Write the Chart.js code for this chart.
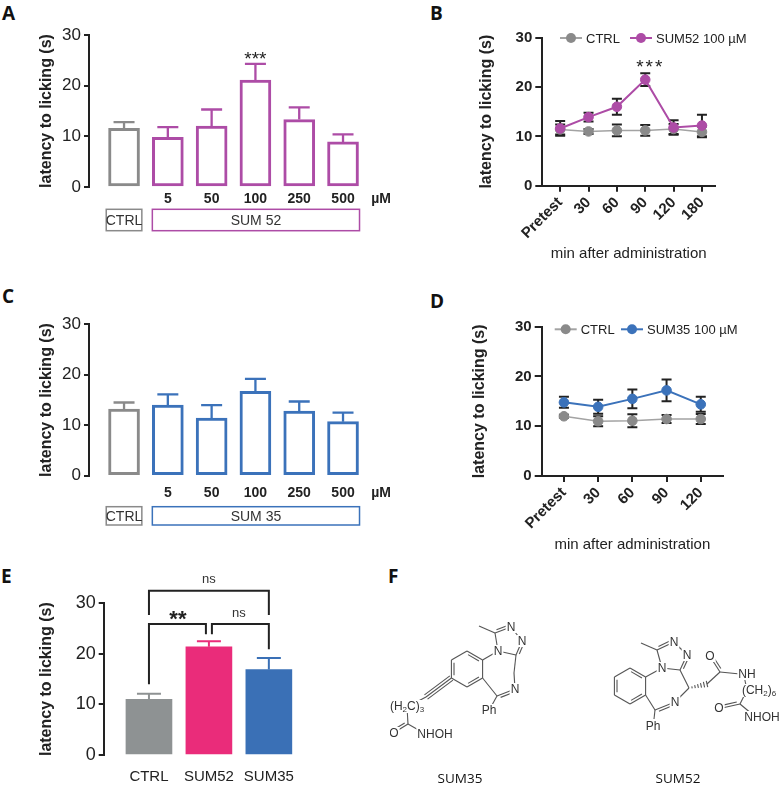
<!DOCTYPE html>
<html lang="en">
<head>
<meta charset="UTF-8">
<title>Latency to licking</title>
<script src="https://cdn.jsdelivr.net/npm/chart.js@4.4.0/dist/chart.umd.min.js"></script>
<style>
    body { margin: 0; background: #fff; }
    #fig { position: relative; width: 780px; height: 793px; overflow: hidden; background: #fff; }
    canvas { position: absolute; }
    .lbl { position: absolute; font: bold 19px 'Open Sans', sans-serif; line-height: 19px; color: #111; }
</style>
</head>
<body>
<div id="fig">
    <div class="lbl" style="left:2px;top:4px">A</div>
    <div class="lbl" style="left:430px;top:4px">B</div>
    <div class="lbl" style="left:2px;top:287px">C</div>
    <div class="lbl" style="left:430px;top:292px">D</div>
    <div class="lbl" style="left:1px;top:567px">E</div>
    <div class="lbl" style="left:388px;top:567px">F</div>
    <canvas id="cF" width="390" height="253" style="left:390px;top:540px"></canvas>
    <canvas id="cB" width="390" height="270" style="left:390px;top:0"></canvas>
    <canvas id="cD" width="390" height="285" style="left:390px;top:270px"></canvas>
    <canvas id="cA" width="400" height="265" style="left:0;top:0"></canvas>
    <canvas id="cC" width="400" height="265" style="left:0;top:270px"></canvas>
    <canvas id="cE" width="390" height="253" style="left:0;top:540px"></canvas>
</div>
<script>
// ---- data ----
const yTicks = [0, 10, 20, 30];

const doseLabels = ['', '5', '50', '100', '250', '500'];
const sum52DoseMean = [11.6, 9.8, 12.0, 21.1, 13.3, 8.9];
const sum52DoseSem = [1.2, 2.0, 3.3, 3.2, 2.4, 1.5];
const sum52DoseStars = ['', '', '', '***', '', ''];
const sum35DoseMean = [13.2, 14.0, 11.4, 16.7, 12.8, 10.7];
const sum35DoseSem = [1.3, 2.1, 2.6, 2.5, 1.9, 1.8];
const sum35DoseStars = ['', '', '', '', '', ''];

const timeLabelsB = ['Pretest', '30', '60', '90', '120', '180'];
const ctrlTimeB = [11.4, 11.0, 11.2, 11.2, 11.5, 10.9];
const ctrlTimeBSem = [1.0, 0.5, 1.2, 1.1, 1.0, 1.1];
const sum52Time = [11.6, 13.9, 16.0, 21.5, 11.8, 12.2];
const sum52TimeSem = [1.5, 0.9, 1.6, 1.3, 1.45, 2.2];
const sum52TimeStars = ['', '', '', '***', '', ''];

const timeLabelsD = ['Pretest', '30', '60', '90', '120'];
const ctrlTimeD = [12.0, 11.0, 11.1, 11.45, 11.45];
const ctrlTimeDSem = [0.3, 1.0, 1.3, 0.8, 1.0];
const sum35Time = [14.8, 13.9, 15.5, 17.2, 14.4];
const sum35TimeSem = [1.1, 1.4, 1.9, 2.2, 1.5];
const sum35TimeStars = ['', '', '', '', ''];

const groupLabelsE = ['CTRL', 'SUM52', 'SUM35'];
const groupMeanE = [11.0, 21.4, 16.9];
const groupSemE = [1.1, 1.1, 2.3];

// ---- styling ----
const FONT = "'Liberation Sans', Arial, sans-serif";
const INK = '#222';
const GRAY = '#8a8a8a';
const PURPLE = '#ad4ca6';
const BLUE = '#3b72ba';
const barColorsE = ['#8e9293', '#ea2c7a', '#3a70b6'];

Chart.defaults.font.family = FONT;
Chart.defaults.color = INK;
Chart.defaults.animation = false;
Chart.defaults.plugins.legend.display = false;
Chart.defaults.plugins.tooltip.enabled = false;

// error bars from dataset.sem, drawn under the marks
const errorBars = {
    id: 'errorBars',
    beforeDatasetsDraw(chart) {
        const {ctx, scales: {x, y}} = chart;
        chart.data.datasets.forEach(ds => {
            if (!ds.sem) return;
            ctx.save();
            ctx.lineWidth = ds.errWidth || 2;
            ds.data.forEach((p, i) => {
                const px = x.getPixelForValue(p.x);
                const top = y.getPixelForValue(p.y + ds.sem[i]);
                const bot = y.getPixelForValue(ds.errUp ? p.y : p.y - ds.sem[i]);
                ctx.strokeStyle = Array.isArray(ds.errColor) ? ds.errColor[i] : ds.errColor;
                ctx.beginPath();
                ctx.moveTo(px, bot); ctx.lineTo(px, top);
                ctx.moveTo(px - ds.cap, top); ctx.lineTo(px + ds.cap, top);
                if (!ds.errUp) { ctx.moveTo(px - ds.cap, bot); ctx.lineTo(px + ds.cap, bot); }
                ctx.stroke();
            });
            ctx.restore();
        });
    }
};

function yAxis(width, titlePad, tickFont, tickLen) {
    return {
        min: 0, max: 30,
        afterFit: s => { s.width = width; },
        afterBuildTicks: s => { s.ticks = yTicks.map(v => ({value: v})); },
        border: {color: INK, width: 2},
        grid: {drawOnChartArea: false, drawTicks: true, tickLength: tickLen, color: INK, lineWidth: 2},
        ticks: {font: tickFont, color: INK, padding: 3},
        title: {display: true, text: 'latency to licking (s)', color: INK,
                font: {size: 16, weight: 'bold'}, padding: {top: titlePad, bottom: 0}}
    };
}

function stars(ctx, text, x, yCenter, size, weight, spacing) {
    ctx.save();
    ctx.fillStyle = INK;
    ctx.font = `${weight} ${size}px ${FONT}`;
    if (spacing) ctx.letterSpacing = spacing;
    ctx.textAlign = 'center';
    ctx.textBaseline = 'alphabetic';
    ctx.fillText(text, x, yCenter + size * 0.57);
    ctx.restore();
}

function labelBox(ctx, l, t, w, h, color, text) {
    ctx.save();
    ctx.strokeStyle = color; ctx.lineWidth = 1.5;
    ctx.strokeRect(l, t, w, h);
    ctx.fillStyle = '#333';
    ctx.font = `14px ${FONT}`;
    ctx.textAlign = 'center'; ctx.textBaseline = 'middle';
    ctx.fillText(text, l + w / 2, t + h / 2 + 1);
    ctx.restore();
}

// ---- A and C: dose response bars ----
function doseChart(id, mean, sem, starList, color, boxText, g) {
    const borders = doseLabels.map((_, i) => i === 0 ? GRAY : color);
    new Chart(document.getElementById(id), {
        type: 'bar',
        data: {
            datasets: [{
                data: mean.map((v, i) => ({x: i, y: v})),
                backgroundColor: '#fff', borderColor: borders, borderWidth: 3,
                borderSkipped: false, barThickness: 31,
                sem: sem, errUp: true, errColor: borders, cap: 10.5, errWidth: 2.3
            }]
        },
        options: {
            responsive: false,
            layout: {padding: {left: 0, top: g.top, right: 30, bottom: 0}},
            scales: {
                x: {
                    type: 'linear', min: -0.8, max: 5.616, offset: false,
                    afterFit: s => { s.height = g.h - g.bottom; },
                    afterBuildTicks: s => { s.ticks = doseLabels.map((_, i) => ({value: i})); },
                    border: {display: false},
                    grid: {display: false, drawTicks: false},
                    ticks: {callback: v => doseLabels[v], autoSkip: false, maxRotation: 0,
                            font: {size: 14, weight: 'bold'}, color: INK, padding: g.labelPad}
                },
                y: yAxis(89, 37, {size: 17}, 5)
            }
        },
        plugins: [errorBars, {
            id: 'doseExtras',
            afterDraw(chart) {
                const {ctx, scales: {x, y}} = chart;
                ctx.save();
                ctx.fillStyle = INK;
                ctx.font = `bold 14px ${FONT}`;
                ctx.textAlign = 'center'; ctx.textBaseline = 'middle';
                ctx.fillText('µM', x.getPixelForValue(doseLabels.length - 1) + 38, y.bottom + g.labelDy);
                ctx.restore();
                const half = 15.5;
                const bt = y.bottom + g.boxDy;
                const c0 = x.getPixelForValue(0);
                labelBox(ctx, c0 - half - 2.3, bt, 2 * half + 4.6, g.boxH, GRAY, 'CTRL');
                const l = x.getPixelForValue(1) - half;
                const r = x.getPixelForValue(doseLabels.length - 1) + half + 1;
                labelBox(ctx, l, bt, r - l, g.boxH, color, boxText);
                starList.forEach((s, i) => {
                    if (!s) return;
                    stars(ctx, s, x.getPixelForValue(i), y.getPixelForValue(mean[i] + sem[i]) - 10, 19, 'normal');
                });
            }
        }]
    });
}

doseChart('cA', sum52DoseMean, sum52DoseSem, sum52DoseStars, PURPLE, 'SUM 52',
    {h: 265, top: 35, bottom: 187, labelPad: 4, labelDy: 12, boxDy: 22.3, boxH: 21.4});
doseChart('cC', sum35DoseMean, sum35DoseSem, sum35DoseStars, BLUE, 'SUM 35',
    {h: 265, top: 54.3, bottom: 205.7, labelPad: 9, labelDy: 17, boxDy: 31, boxH: 18.3});

// ---- B and D: time course ----
function timeChart(id, labels, ctrl, ctrlSem, drug, drugSem, starList, color, name, g) {
    new Chart(document.getElementById(id), {
        type: 'line',
        data: {
            datasets: [{
                label: 'CTRL',
                data: ctrl.map((v, i) => ({x: i, y: v})),
                borderColor: '#a3a3a3', borderWidth: 1.6,
                pointBackgroundColor: GRAY, pointBorderColor: GRAY, pointRadius: 4.8, pointBorderWidth: 1,
                order: 2, sem: ctrlSem, errColor: INK, cap: 5, errWidth: 2
            }, {
                label: name,
                data: drug.map((v, i) => ({x: i, y: v})),
                borderColor: color, borderWidth: 2,
                pointBackgroundColor: color, pointBorderColor: color, pointRadius: 4.8, pointBorderWidth: 1,
                order: 1, sem: drugSem, errColor: INK, cap: 5, errWidth: 2
            }]
        },
        options: {
            responsive: false,
            layout: {padding: {left: 0, top: g.top, right: 390 - g.right, bottom: 0}},
            scales: {
                x: {
                    type: 'linear', min: g.min, max: g.max, offset: false,
                    afterFit: s => { s.height = g.h - g.bottom; },
                    afterBuildTicks: s => { s.ticks = labels.map((_, i) => ({value: i})); },
                    border: {color: INK, width: 2},
                    grid: {drawOnChartArea: false, drawTicks: true, tickLength: 6, color: INK, lineWidth: 2},
                    ticks: {callback: v => labels[v], autoSkip: false, minRotation: 45, maxRotation: 45,
                            font: {size: 15, weight: 'bold'}, color: INK, padding: 2},
                    title: {display: true, text: 'min after administration', color: INK,
                            font: {size: 15}, padding: {top: 0, bottom: g.xTitlePad}}
                },
                y: yAxis(g.left, g.titlePad, {size: 15, weight: 'bold'}, 7)
            }
        },
        plugins: [errorBars, {
            id: 'timeExtras',
            afterDraw(chart) {
                const {ctx, scales: {x, y}} = chart;
                const items = [[GRAY, '#a3a3a3', 'CTRL', g.leg[0]], [color, color, name, g.leg[1]]];
                items.forEach(([fill, line, text, cx]) => {
                    ctx.save();
                    ctx.strokeStyle = line; ctx.lineWidth = 2;
                    ctx.beginPath(); ctx.moveTo(cx - 11, g.legY); ctx.lineTo(cx + 11, g.legY); ctx.stroke();
                    ctx.fillStyle = fill;
                    ctx.beginPath(); ctx.arc(cx, g.legY, 5, 0, Math.PI * 2); ctx.fill();
                    ctx.fillStyle = INK;
                    ctx.font = `13px ${FONT}`;
                    ctx.textAlign = 'left'; ctx.textBaseline = 'middle';
                    ctx.fillText(text, cx + 15, g.legY + 1);
                    ctx.restore();
                });
                starList.forEach((s, i) => {
                    if (!s) return;
                    stars(ctx, s, x.getPixelForValue(i) + 5, y.getPixelForValue(drug[i] + drugSem[i]) - 11, 19, 'normal', '2px');
                });
            }
        }]
    });
}

timeChart('cB', timeLabelsB, ctrlTimeB, ctrlTimeBSem, sum52Time, sum52TimeSem, sum52TimeStars, PURPLE, 'SUM52 100 µM',
    {h: 270, left: 152.3, top: 37.7, bottom: 185.7, right: 325, min: -0.63, max: 5.46,
     titlePad: 87, xTitlePad: 7, legY: 38, leg: [181, 251]});
timeChart('cD', timeLabelsD, ctrlTimeD, ctrlTimeDSem, sum35Time, sum35TimeSem, sum35TimeStars, BLUE, 'SUM35 100 µM',
    {h: 285, left: 151.7, top: 56.7, bottom: 206, right: 333, min: -0.65, max: 4.65,
     titlePad: 80, xTitlePad: 1.5, legY: 59.3, leg: [175.7, 242]});

// ---- E: group comparison ----
new Chart(document.getElementById('cE'), {
    type: 'bar',
    data: {
        datasets: [{
            data: groupMeanE.map((v, i) => ({x: i, y: v})),
            backgroundColor: barColorsE, borderWidth: 0, barThickness: 46,
            sem: groupSemE, errUp: true, errColor: barColorsE, cap: 12, errWidth: 2
        }]
    },
    options: {
        responsive: false,
        layout: {padding: {left: 0, top: 63.3, right: 60, bottom: 0}},
        scales: {
            x: {
                type: 'linear', min: -0.755, max: 3.02, offset: false,
                afterFit: s => { s.height = 38; },
                afterBuildTicks: s => { s.ticks = groupLabelsE.map((_, i) => ({value: i})); },
                border: {display: false},
                grid: {display: false, drawTicks: false},
                ticks: {callback: v => groupLabelsE[v], autoSkip: false, maxRotation: 0,
                        font: {size: 15}, color: INK, padding: 13}
            },
            y: yAxis(103.7, 37, {size: 18}, 5)
        }
    },
    plugins: [errorBars, {
        id: 'brackets',
        afterDraw(chart) {
            const {ctx, scales: {x, y}} = chart;
            const X = i => x.getPixelForValue(i);
            const Y = v => y.getPixelForValue(v);
            ctx.save();
            ctx.strokeStyle = INK; ctx.lineWidth = 2;
            const seg = (pts) => {
                ctx.beginPath();
                ctx.moveTo(pts[0][0], pts[0][1]);
                pts.slice(1).forEach(p => ctx.lineTo(p[0], p[1]));
                ctx.stroke();
            };
            seg([[X(0), Y(27.7)], [X(0), Y(32.5)], [X(2), Y(32.5)], [X(2), Y(27.7)]]);
            seg([[X(0), Y(14.0)], [X(0), Y(25.9)], [X(1) - 3, Y(25.9)], [X(1) - 3, Y(23.9)]]);
            seg([[X(1) + 3, Y(23.9)], [X(1) + 3, Y(25.9)], [X(2), Y(25.9)], [X(2), Y(20.9)]]);
            ctx.fillStyle = '#333';
            ctx.font = `13px ${FONT}`;
            ctx.textAlign = 'center'; ctx.textBaseline = 'middle';
            ctx.fillText('ns', (X(0) + X(2)) / 2, Y(32.5) - 11);
            ctx.fillText('ns', (X(1) + X(2)) / 2, Y(25.9) - 11);
            ctx.restore();
            stars(ctx, '**', (X(0) + X(1)) / 2 - 1, Y(25.9) - 11, 22, 'bold');
        }
    }]
});

// ---- F: structures (plain canvas drawing) ----
(function drawStructures() {
    const cv = document.getElementById('cF');
    const ctx = cv.getContext('2d');
    const ox = 390, oy = 540;
    const P = p => [p[0] - ox, p[1] - oy];
    const hex = (cx, cy, r) => [0, 1, 2, 3, 4, 5].map(k => {
        const a = -Math.PI / 2 + k * Math.PI / 3;
        return [cx + r * Math.cos(a), cy + r * Math.sin(a)];
    });
    ctx.strokeStyle = '#555';
    ctx.lineWidth = 1.1;
    function line(a, b) { ctx.beginPath(); ctx.moveTo(a[0], a[1]); ctx.lineTo(b[0], b[1]); ctx.stroke(); }
    function bond(a0, b0, type, side) {
        const a = P(a0), b = P(b0);
        const dx = b[0] - a[0], dy = b[1] - a[1], L = Math.hypot(dx, dy);
        const nx = -dy / L * 2.6, ny = dx / L * 2.6;
        if (type === 'h') {
            for (let k = 1; k <= 6; k++) {
                const t = k / 6, w = 0.6 + t * 2.6;
                const cx = a[0] + dx * t, cy = a[1] + dy * t;
                line([cx - nx / 2.6 * w, cy - ny / 2.6 * w], [cx + nx / 2.6 * w, cy + ny / 2.6 * w]);
            }
            return;
        }
        if (type === 't') {
            line(a, b);
            line([a[0] + nx, a[1] + ny], [b[0] + nx, b[1] + ny]);
            line([a[0] - nx, a[1] - ny], [b[0] - nx, b[1] - ny]);
            return;
        }
        line(a, b);
        if (type === 'd') {
            const s = side || 1, sh = 0.15;
            line([a[0] + dx * sh + nx * s, a[1] + dy * sh + ny * s], [b[0] - dx * sh + nx * s, b[1] - dy * sh + ny * s]);
        }
    }
    function ring(v) {
        for (let k = 0; k < 6; k++) bond(v[k], v[(k + 1) % 6], k % 2 === 0 ? 'd' : 's', 1);
    }
    function label(text, p0, size) {
        const p = P(p0);
        ctx.save();
        ctx.font = `${size || 12}px ${FONT}`;
        const w = ctx.measureText(text).width;
        ctx.fillStyle = '#fff';
        ctx.fillRect(p[0] - w / 2 - 1, p[1] - 6, w + 2, 12);
        ctx.fillStyle = '#333';
        ctx.textAlign = 'center'; ctx.textBaseline = 'middle';
        ctx.fillText(text, p[0], p[1] + 0.5);
        ctx.restore();
    }
    function subLabel(parts, p0) {
        // parts: [text, isSub]
        const p = P(p0);
        ctx.save();
        let w = 0;
        parts.forEach(([t, sub]) => { ctx.font = `${sub ? 8 : 12}px ${FONT}`; w += ctx.measureText(t).width; });
        ctx.fillStyle = '#fff';
        ctx.fillRect(p[0] - w / 2 - 1, p[1] - 6, w + 2, 13);
        let xx = p[0] - w / 2;
        ctx.fillStyle = '#333';
        ctx.textBaseline = 'middle';
        parts.forEach(([t, sub]) => {
            ctx.font = `${sub ? 8 : 12}px ${FONT}`;
            ctx.fillText(t, xx, p[1] + (sub ? 3.5 : 0.5));
            xx += ctx.measureText(t).width;
        });
        ctx.restore();
    }

    // SUM35
    let b = hex(467, 669, 18);
    ring(b);
    let N1 = [498, 651], C2 = [495, 633], N3 = [511, 627], N4 = [522, 641], C5 = [516, 655];
    bond(b[1], N1); bond(N1, C2); bond(C2, N3, 'd', -1); bond(N3, N4); bond(N4, C5, 'd', -1); bond(C5, N1);
    bond(C2, [479, 626]);
    let C6 = [514, 673], N7 = [515, 689], C8 = [497, 696];
    bond(C5, C6); bond(C6, N7); bond(N7, C8, 'd', -1); bond(C8, b[2]); bond(C8, [492, 705]);
    bond(b[4], [426, 697], 't');
    bond([426, 697], [407, 707]);
    bond([407, 707], [408, 724]);
    bond([408, 724], [395, 732], 'd', 1);
    bond([408, 724], [422, 732]);
    [N1, N3, N4, N7].forEach(p => label('N', p));
    label('Ph', [489, 710]);
    subLabel([['(H', 0], ['2', 1], ['C)', 0], ['3', 1]], [407, 706]);
    label('O', [394, 733]);
    label('NHOH', [435, 734]);

    // SUM52
    b = hex(630, 686, 18);
    ring(b);
    N1 = [662, 668]; C2 = [657, 650]; N3 = [674, 642]; N4 = [687, 655]; C5 = [680, 670];
    bond(b[1], N1); bond(N1, C2); bond(C2, N3, 'd', -1); bond(N3, N4); bond(N4, C5, 'd', -1); bond(C5, N1);
    bond(C2, [641, 643]);
    C6 = [689, 688]; N7 = [675, 702]; C8 = [655, 710];
    bond(C5, C6); bond(C6, N7); bond(N7, C8, 'd', -1); bond(C8, b[2]); bond(C8, [654, 719]);
    const CH2 = [707, 684], C9 = [720, 672], C10 = [740, 704];
    bond(C6, CH2, 'h'); bond(CH2, C9); bond(C9, [711, 658], 'd', 1); bond(C9, [740, 674]);
    bond([744, 676], [747, 690]); bond([747, 690], C10);
    bond(C10, [722, 708], 'd', 1); bond(C10, [752, 714]);
    [N1, N3, N4, N7].forEach(p => label('N', p));
    label('O', [710, 656]);
    label('NH', [747, 674]);
    subLabel([['(CH', 0], ['2', 1], [')', 0], ['6', 1]], [759, 690]);
    label('O', [719, 708]);
    label('NHOH', [762, 717]);
    label('Ph', [653, 726]);

    // names
    ctx.fillStyle = '#111';
    ctx.font = `13.5px 'Open Sans', sans-serif`;
    ctx.textAlign = 'center'; ctx.textBaseline = 'middle';
    ctx.fillText('SUM35', 460 - ox, 779 - oy);
    ctx.fillText('SUM52', 678 - ox, 779 - oy);
})();
</script>
</body>
</html>
